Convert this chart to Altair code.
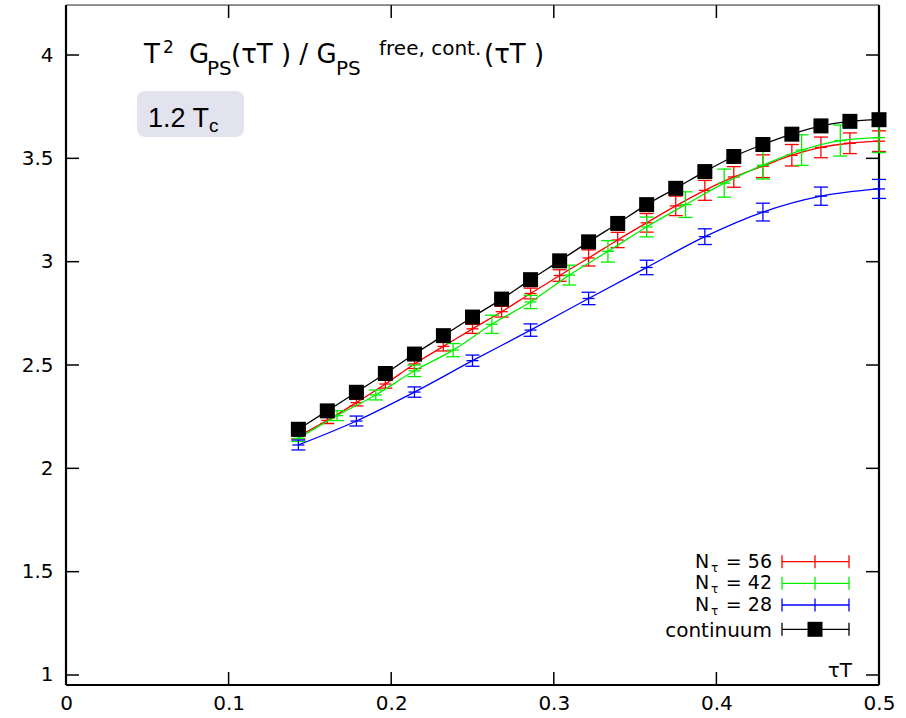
import altair as alt
import pandas as pd

# ---------------- data ----------------
x_n56 = [0.1429, 0.1607, 0.1786, 0.1964, 0.2143, 0.2321, 0.2500, 0.2679, 0.2857, 0.3036, 0.3214,
         0.3393, 0.3571, 0.3750, 0.3929, 0.4107, 0.4286, 0.4464, 0.4643, 0.4821, 0.5000]
cont_y = [2.189, 2.278, 2.368, 2.459, 2.553, 2.642, 2.732, 2.819, 2.913, 3.004, 3.096,
          3.185, 3.276, 3.355, 3.436, 3.509, 3.567, 3.617, 3.657, 3.679, 3.687]
cont_err = [0.008, 0.008, 0.008, 0.008, 0.008, 0.008, 0.008, 0.008, 0.008, 0.008, 0.008,
            0.008, 0.008, 0.008, 0.008, 0.008, 0.008, 0.008, 0.008, 0.008, 0.008]
n56_y = [2.155, 2.232, 2.318, 2.408, 2.505, 2.590, 2.675, 2.758, 2.846, 2.933, 3.018,
         3.105, 3.188, 3.270, 3.345, 3.410, 3.462, 3.515, 3.553, 3.573, 3.583]
n56_err = [0.012, 0.015, 0.016, 0.020, 0.022, 0.022, 0.022, 0.026, 0.026, 0.028, 0.039,
           0.037, 0.045, 0.047, 0.048, 0.050, 0.055, 0.052, 0.050, 0.050, 0.050]
x_n42 = [0.1429, 0.1667, 0.1905, 0.2143, 0.2381, 0.2619, 0.2857, 0.3095, 0.3333, 0.3571,
         0.3810, 0.4048, 0.4286, 0.4524, 0.4762, 0.5000]
n42_y = [2.145, 2.255, 2.355, 2.472, 2.572, 2.697, 2.805, 2.935, 3.050, 3.168,
         3.276, 3.380, 3.467, 3.540, 3.586, 3.600]
n42_err = [0.015, 0.024, 0.024, 0.028, 0.032, 0.044, 0.032, 0.048, 0.052, 0.048,
           0.062, 0.068, 0.067, 0.074, 0.075, 0.072]
x_n28 = [0.1429, 0.1786, 0.2143, 0.2500, 0.2857, 0.3214, 0.3571, 0.3929, 0.4286, 0.4643, 0.5000]
n28_y = [2.113, 2.229, 2.369, 2.521, 2.669, 2.822, 2.972, 3.121, 3.240, 3.317, 3.352]
n28_err = [0.024, 0.024, 0.025, 0.027, 0.030, 0.030, 0.035, 0.038, 0.043, 0.044, 0.046]

x_ticks = [0, 0.1, 0.2, 0.3, 0.4, 0.5]
y_ticks = [1, 1.5, 2, 2.5, 3, 3.5, 4]

legend_nums = ["56", "42", "28"]
legend_colors = ["#ff0000", "#00f000", "#0000ff"]

# ---------------- layout ----------------
W, H = 813, 680
PAD_L, PAD_T = 66, 5
XD = [0, 0.5]
YD = [0.9516, 4.242]
FONT = "DejaVu Sans"

X_AXIS = alt.Axis(values=x_ticks, labelExpr="datum.value == 0 ? '0' : format(datum.value, '.1f')",
                  ticks=False, domain=False, grid=False, labelFont=FONT, labelFontSize=20,
                  labelPadding=8, labelColor="black", title=None, labelFlush=False)
Y_AXIS = alt.Axis(values=y_ticks, format="~g", ticks=False, domain=False, grid=False,
                  labelFont=FONT, labelFontSize=20, labelPadding=13, labelColor="black",
                  title=None, labelFlush=False)


def X(field):
    return alt.X(field, type="quantitative", scale=alt.Scale(domain=XD, nice=False, zero=False), axis=X_AXIS)


def Y(field):
    return alt.Y(field, type="quantitative", scale=alt.Scale(domain=YD, nice=False, zero=False), axis=Y_AXIS)


def mkdf(xs, ys, es):
    d = pd.DataFrame({"x": xs, "y": ys, "e": es})
    d["lo"] = d["y"] - d["e"]
    d["hi"] = d["y"] + d["e"]
    return d


def series(xs, ys, es, color, squares=False):
    d = mkdf(xs, ys, es)
    base = alt.Chart(d)
    layers = [
        base.mark_line(color=color, strokeWidth=1.3, interpolate="monotone").encode(x=X("x"), y=Y("y")),
        base.mark_rule(color=color, strokeWidth=1.3).encode(x=X("x"), y=Y("lo"), y2="hi"),
        base.mark_tick(color=color, orient="horizontal", size=14, thickness=1.3, opacity=1).encode(x=X("x"), y=Y("lo")),
        base.mark_tick(color=color, orient="horizontal", size=14, thickness=1.3, opacity=1).encode(x=X("x"), y=Y("hi")),
    ]
    if squares:
        layers.append(base.mark_square(color=color, size=225, opacity=1, filled=True).encode(x=X("x"), y=Y("y")))
    else:
        layers.append(base.mark_tick(color=color, orient="horizontal", size=12, thickness=1.3, opacity=1).encode(x=X("x"), y=Y("y")))
    return layers


one = pd.DataFrame({"a": [0]})


def txt(s, x, y, size=20, align="left", baseline="alphabetic", font=FONT):
    return alt.Chart(one).mark_text(text=s, font=font, fontSize=size, align=align, baseline=baseline,
                                    color="black").encode(x=alt.value(x - PAD_L), y=alt.value(y - PAD_T))


layers = []

# axis ticks (inward, mirrored)
xt = pd.DataFrame({"v": x_ticks})
yt = pd.DataFrame({"v": y_ticks})
layers.append(alt.Chart(xt).mark_tick(orient="vertical", size=13, thickness=1.5, color="black", opacity=1)
              .encode(x=X("v"), y=alt.value(H - 6.5)))
layers.append(alt.Chart(xt).mark_tick(orient="vertical", size=13, thickness=1.5, color="black", opacity=1)
              .encode(x=X("v"), y=alt.value(6.5)))
layers.append(alt.Chart(yt).mark_tick(orient="horizontal", size=13, thickness=1.5, color="black", opacity=1)
              .encode(y=Y("v"), x=alt.value(6.5)))
layers.append(alt.Chart(yt).mark_tick(orient="horizontal", size=13, thickness=1.5, color="black", opacity=1)
              .encode(y=Y("v"), x=alt.value(W - 6.5)))

# frame
layers.append(alt.Chart(one).mark_rule(color="black", strokeWidth=2.2).encode(x=alt.value(0), x2=alt.value(W), y=alt.value(H)))
layers.append(alt.Chart(one).mark_rule(color="black", strokeWidth=2.2).encode(x=alt.value(0), y=alt.value(0), y2=alt.value(H)))
layers.append(alt.Chart(one).mark_rule(color="black", strokeWidth=2.2).encode(x=alt.value(W), y=alt.value(0), y2=alt.value(H)))
layers.append(alt.Chart(one).mark_rule(color="#333333", strokeWidth=1).encode(x=alt.value(0), x2=alt.value(W), y=alt.value(0)))

# data series
layers += series(x_n56, n56_y, n56_err, legend_colors[0])
layers += series(x_n42, n42_y, n42_err, legend_colors[1])
layers += series(x_n28, n28_y, n28_err, legend_colors[2])
layers += series(x_n56, cont_y, cont_err, "black", squares=True)

# title (composed with super/subscripts)
layers += [
    txt("T", 144, 63, 26),
    txt("2", 163, 53, 17),
    txt("G", 189, 63, 26),
    txt("PS", 207, 75, 20),
    txt("(\u03c4T ) / G", 231, 63, 26),
    txt("PS", 336, 75, 20),
    txt("free, cont.", 379, 55, 20),
    txt("(\u03c4T )", 484, 63, 26),
]

# temperature label box
layers.append(alt.Chart(one).mark_rect(fill="#e3e3ef", cornerRadius=8).encode(
    x=alt.value(137 - PAD_L), x2=alt.value(244 - PAD_L), y=alt.value(91 - PAD_T), y2=alt.value(137 - PAD_T)))
layers += [txt("1.2 T", 148, 127, 27, font="Liberation Sans"), txt("c", 209, 132, 19, font="Liberation Sans")]

# legend
rows_y = [561.7, 583.3, 605.0, 629.3]
for i in range(3):
    yb = rows_y[i] + 6
    layers += [txt("N", 695, yb, 19), txt("\u03c4", 711, yb + 4, 12), txt("= " + legend_nums[i], 772, yb, 19, align="right")]
layers.append(txt("continuum", 772, 637, 20, align="right"))
for i in range(4):
    col = legend_colors[i] if i < 3 else "black"
    yy = rows_y[i] - PAD_T
    layers.append(alt.Chart(one).mark_rule(color=col, strokeWidth=1.3).encode(
        x=alt.value(782 - PAD_L), x2=alt.value(849 - PAD_L), y=alt.value(yy)))
    for xx in (782, 849, 815):
        if i == 3 and xx == 815:
            continue
        layers.append(alt.Chart(one).mark_rule(color=col, strokeWidth=1.3).encode(
            x=alt.value(xx - PAD_L), y=alt.value(yy - 6.5), y2=alt.value(yy + 6.5)))
    if i == 3:
        layers.append(alt.Chart(one).mark_square(color="black", size=225, opacity=1, filled=True).encode(
            x=alt.value(815 - PAD_L), y=alt.value(yy)))

# axis label
layers.append(txt("\u03c4T", 852, 677, 20, align="right"))

chart = alt.layer(*layers).properties(
    width=W, height=H,
    autosize=alt.AutoSizeParams(type="none"),
    padding={"left": PAD_L, "top": PAD_T, "right": 906 - PAD_L - W, "bottom": 718 - PAD_T - H},
).configure_view(stroke=None).configure(background="white")

chart.save("out.html", embed_options={"renderer": "svg", "actions": False})
